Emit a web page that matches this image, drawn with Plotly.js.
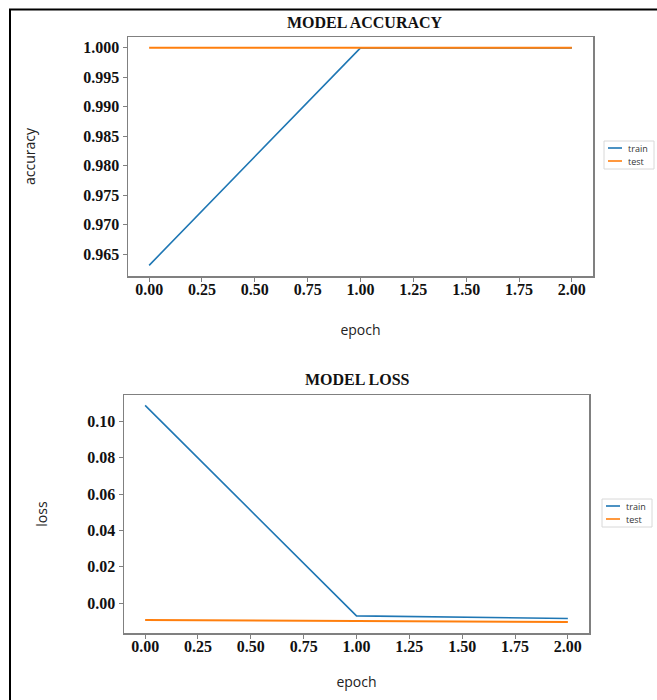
<!DOCTYPE html>
<html>
<head>
<meta charset="utf-8">
<script src="https://cdn.plot.ly/plotly-3.0.1.min.js"></script>
<style>
html,body{margin:0;padding:0;background:#fff;}
#chart{width:657px;height:700px;}
</style>
</head>
<body>
<div id="chart"></div>
<script>
// ---- data ----
const epochs = [0, 1, 2];
const accTrain = [0.9631, 1.0, 1.0];
const accTest = [1.0, 1.0, 1.0];
const lossTrain = [0.1088, -0.0070, -0.0084];
const lossTest = [-0.0092, -0.0099, -0.0103];
const seriesNames = ['train', 'test'];
const seriesColors = ['#1f77b4', '#ff7f0e'];
const accTicks = [0.965, 0.970, 0.975, 0.980, 0.985, 0.990, 0.995, 1.000];
const lossTicks = [0.00, 0.02, 0.04, 0.06, 0.08, 0.10];
const xTicks = [0, 0.25, 0.5, 0.75, 1.0, 1.25, 1.5, 1.75, 2.0];

const W = 657, H = 700;
const px = v => v / W;
const py = v => 1 - v / H;

const tickFont = {family: 'Liberation Serif, Times New Roman, serif', size: 16, color: '#111', weight: 'bold'};
const titleFont = {family: 'Liberation Serif, Times New Roman, serif', size: 16, color: '#111', weight: 'bold'};
const labelFont = {family: 'Open Sans, sans-serif', size: 14, color: '#222'};

function axisBase() {
  return {
    showgrid: false, zeroline: false, showline: true, mirror: true,
    linecolor: '#808080', linewidth: 1.5,
    ticks: 'outside', ticklen: 4, tickwidth: 1, tickcolor: '#808080',
    tickfont: tickFont, fixedrange: true
  };
}

const traces = [
  {x: epochs, y: accTrain, name: seriesNames[0], mode: 'lines', line: {color: seriesColors[0], width: 1.6}, xaxis: 'x', yaxis: 'y'},
  {x: epochs, y: accTest, name: seriesNames[1], mode: 'lines', line: {color: seriesColors[1], width: 2}, xaxis: 'x', yaxis: 'y'},
  {x: epochs, y: lossTrain, name: seriesNames[0], mode: 'lines', line: {color: seriesColors[0], width: 1.6}, xaxis: 'x2', yaxis: 'y2'},
  {x: epochs, y: lossTest, name: seriesNames[1], mode: 'lines', line: {color: seriesColors[1], width: 2}, xaxis: 'x2', yaxis: 'y2'}
];

const xa = Object.assign(axisBase(), {
  domain: [px(128), px(593)], anchor: 'y', range: [-0.1, 2.1],
  tickvals: xTicks, ticktext: xTicks.map(v => v.toFixed(2)), ticklabelstandoff: -6,
  title: {text: 'epoch', font: labelFont, standoff: 28}
});
const ya = Object.assign(axisBase(), {
  domain: [py(276), py(37)], anchor: 'x', range: [0.96129, 1.00184],
  tickvals: accTicks, ticktext: accTicks.map(v => v.toFixed(3)),
  title: {text: 'accuracy', font: labelFont, standoff: 44}
});
const xa2 = Object.assign(axisBase(), {
  domain: [px(124), px(589)], anchor: 'y2', range: [-0.1, 2.1],
  tickvals: xTicks, ticktext: xTicks.map(v => v.toFixed(2)), ticklabelstandoff: -6,
  title: {text: 'epoch', font: labelFont, standoff: 23}
});
const ya2 = Object.assign(axisBase(), {
  domain: [py(633), py(395)], anchor: 'x2', range: [-0.0164, 0.1145],
  tickvals: lossTicks, ticktext: lossTicks.map(v => v.toFixed(2)),
  title: {text: 'loss', font: labelFont, standoff: 36}
});

const shapes = [
  // outer figure frame
  {type: 'rect', xref: 'paper', yref: 'paper', x0: px(10), x1: 1.05, y0: -0.05, y1: py(9.5),
   line: {color: '#000', width: 2}, fillcolor: 'rgba(0,0,0,0)', layer: 'above'}
];
const annotations = [
  {text: '<b>MODEL ACCURACY</b>', xref: 'paper', yref: 'paper', x: px(365), y: py(22), showarrow: false,
   font: titleFont, xanchor: 'center', yanchor: 'middle'},
  {text: '<b>MODEL LOSS</b>', xref: 'paper', yref: 'paper', x: px(357), y: py(379), showarrow: false,
   font: titleFont, xanchor: 'center', yanchor: 'middle'}
];
function addLegend(left, top) {
  shapes.push({type: 'rect', xref: 'paper', yref: 'paper', x0: px(left), x1: px(left + 50),
    y0: py(top + 28), y1: py(top), line: {color: '#d8d8d8', width: 1}, fillcolor: '#fff'});
  seriesNames.forEach((n, i) => {
    const yy = top + 7 + i * 13;
    shapes.push({type: 'line', xref: 'paper', yref: 'paper', x0: px(left + 4), x1: px(left + 18),
      y0: py(yy), y1: py(yy), line: {color: seriesColors[i], width: 1.6}});
    annotations.push({text: n, xref: 'paper', yref: 'paper', x: px(left + 22), y: py(yy),
      xanchor: 'left', yanchor: 'middle', showarrow: false,
      font: {family: 'Open Sans, sans-serif', size: 9, color: '#333'}});
  });
}
addLegend(604, 141);
addLegend(602, 499);

const layout = {
  width: W, height: H,
  margin: {l: 0, r: 0, t: 0, b: 0},
  paper_bgcolor: '#fff', plot_bgcolor: '#fff',
  showlegend: false,
  xaxis: xa, yaxis: ya, xaxis2: xa2, yaxis2: ya2,
  shapes: shapes, annotations: annotations
};

Plotly.newPlot('chart', traces, layout, {displayModeBar: false, staticPlot: true});
</script>
</body>
</html>
